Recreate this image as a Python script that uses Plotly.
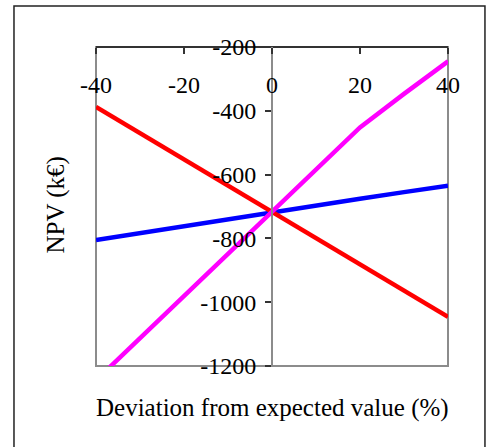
import plotly.graph_objects as go

# Sensitivity of NPV to deviation of each input (%)
deviation = [-40, -30, -20, -10, 0, 10, 20, 30, 40]
npv_red = [-388, -470, -553, -635, -717, -800, -883, -965, -1046]
npv_blue = [-805, -783, -761, -739, -717, -696, -676, -655, -635]
npv_magenta = [-1245, -1113, -981, -849, -717, -585, -452, -347, -245]

x_ticks = [-40, -20, 0, 20, 40]
y_ticks = [-200, -400, -600, -800, -1000, -1200]

FONT = "Liberation Serif, Times New Roman, serif"
AXIS_GRAY = "#8c8c8c"
DARK = "#333333"

fig = go.Figure()
for vals, col in [(npv_blue, "#0000FF"), (npv_red, "#FF0000"), (npv_magenta, "#FF00FF")]:
    fig.add_trace(go.Scatter(x=deviation, y=vals, mode="lines",
                             line=dict(color=col, width=4.5), showlegend=False))

fig.update_layout(
    template="none",
    width=486, height=447,
    margin=dict(l=96, r=38, t=47, b=81),
    plot_bgcolor="white", paper_bgcolor="white",
    font=dict(family=FONT, size=24, color="black"),
    xaxis=dict(range=[-40, 40], tickvals=x_ticks, ticktext=[str(v) for v in x_ticks],
               side="bottom", anchor="free", position=1,
               ticks="outside", ticklen=6, tickwidth=2, tickcolor=DARK,
               ticklabelstandoff=10, tickfont=dict(size=24, color="black"),
               showline=True, linecolor=DARK, linewidth=2,
               showgrid=False, zeroline=False),
    yaxis=dict(range=[-1200, -200], tickvals=y_ticks, ticktext=[str(v) for v in y_ticks],
               anchor="free", position=0.5,
               ticks="outside", ticklen=6, tickwidth=2, tickcolor=DARK,
               ticklabelstandoff=4, tickfont=dict(size=24, color="black"),
               showline=True, linecolor=AXIS_GRAY, linewidth=2,
               showgrid=False, zeroline=False),
    shapes=[
        # plot frame
        dict(type="rect", xref="paper", yref="paper", x0=0, x1=1, y0=0, y1=1,
             line=dict(color=AXIS_GRAY, width=2), layer="below"),
        # outer border
        dict(type="rect", xref="paper", yref="paper", x0=-0.233, x1=1.105,
             y0=-0.3, y1=1.1285, line=dict(color="#222222", width=1.5)),
    ],
    annotations=[
        dict(text="NPV (k€)", xref="paper", yref="paper", x=-0.1136, y=0.503,
             textangle=-90, showarrow=False, font=dict(size=25),
             xanchor="center", yanchor="middle"),
        dict(text="Deviation from expected value (%)", xref="paper", yref="paper",
             x=0.5, y=-0.1317, showarrow=False, font=dict(size=25),
             xanchor="center", yanchor="middle"),
    ],
)

# drop the default page margin so the figure sits at the top-left corner
fig.write_html("out.html", config={"displayModeBar": False},
               post_script="document.body.style.margin='0';")
